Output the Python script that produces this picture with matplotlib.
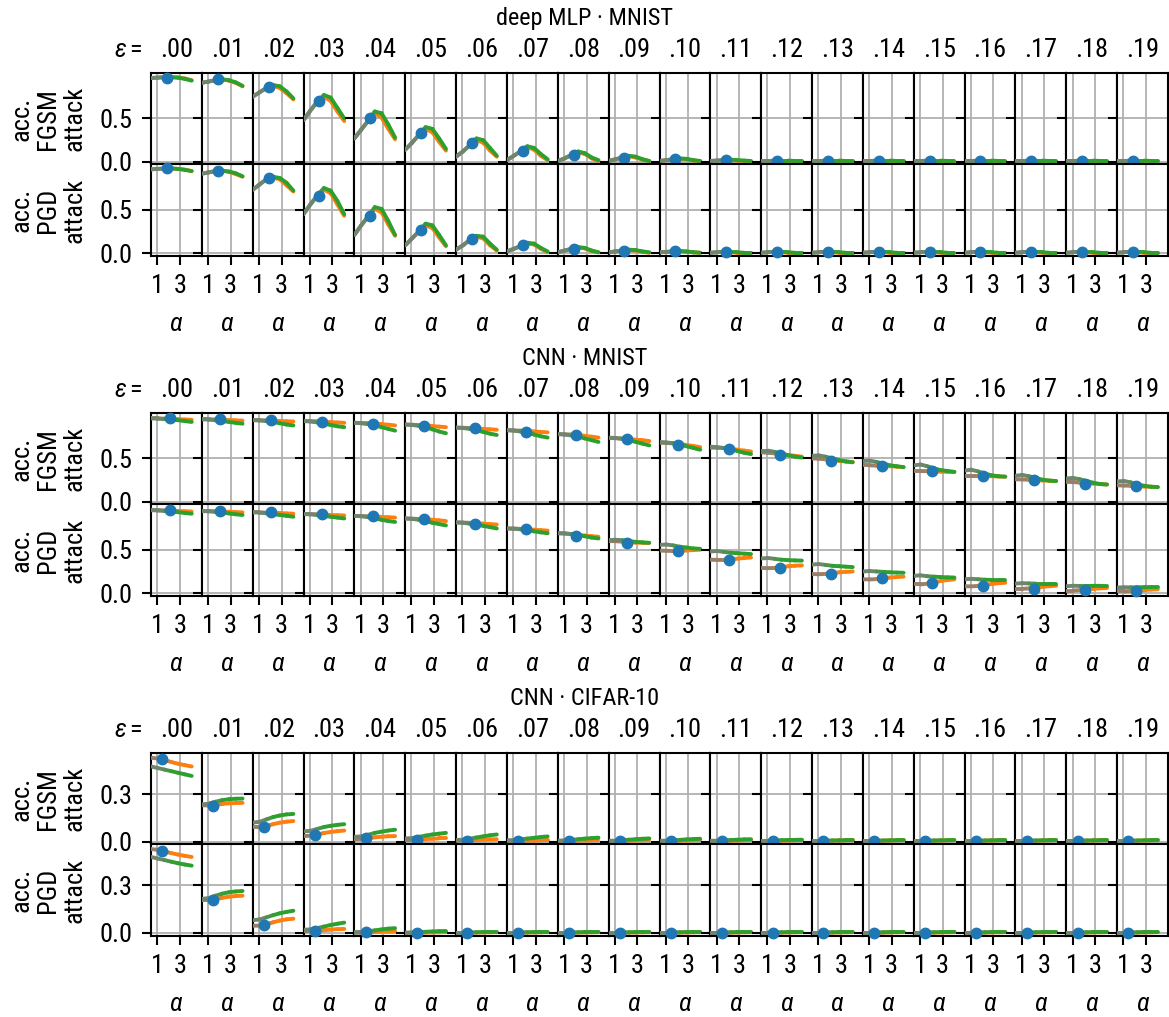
import numpy as np
import matplotlib
matplotlib.use('Agg')
import matplotlib.pyplot as plt
from matplotlib import font_manager
from matplotlib.collections import LineCollection
from matplotlib import colors as mcolors

_names = {f.name for f in font_manager.fontManager.ttflist}
FONT = 'Roboto Condensed' if 'Roboto Condensed' in _names else 'Roboto'
plt.rcParams['font.family'] = [FONT, 'DejaVu Sans']
plt.rcParams['mathtext.fontset'] = 'custom'
plt.rcParams['mathtext.rm'] = FONT
plt.rcParams['mathtext.it'] = FONT + ':italic'

# ---------------------------------------------------------------- data
ALPHAS = [0.45, 1.05, 1.65, 2.25, 2.85, 3.45, 4.05]
EPS_LABELS = ['.00', '.01', '.02', '.03', '.04', '.05', '.06', '.07', '.08', '.09',
              '.10', '.11', '.12', '.13', '.14', '.15', '.16', '.17', '.18', '.19']
GROUP_TITLES = ['deep MLP · MNIST', 'CNN · MNIST', 'CNN · CIFAR-10']
ROW_LABELS = ['acc.\nFGSM\nattack', 'acc.\nPGD\nattack']
DOT_ALPHA = [1.85, 2.1, 1.45]

# deep MLP / MNIST, FGSM
MLP_FGSM_ORANGE = [
    [0.965, 0.97, 0.975, 0.975, 0.97, 0.96, 0.94],
    [0.91, 0.925, 0.94, 0.95, 0.935, 0.91, 0.87],
    [0.75, 0.80, 0.85, 0.875, 0.85, 0.79, 0.72],
    [0.48, 0.59, 0.69, 0.75, 0.70, 0.58, 0.47],
    [0.27, 0.37, 0.47, 0.56, 0.51, 0.38, 0.26],
    [0.14, 0.22, 0.31, 0.38, 0.34, 0.23, 0.13],
    [0.06, 0.12, 0.19, 0.25, 0.22, 0.13, 0.06],
    [0.02, 0.07, 0.12, 0.17, 0.14, 0.07, 0.02],
    [0.01, 0.04, 0.08, 0.11, 0.09, 0.04, 0.01],
    [0.01, 0.03, 0.05, 0.065, 0.05, 0.025, 0.01],
    [0.01, 0.02, 0.03, 0.035, 0.03, 0.015, 0.01],
    [0.01, 0.015, 0.02, 0.02, 0.015, 0.01, 0.005],
    [0.01, 0.01, 0.01, 0.01, 0.01, 0.01, 0.005],
    [0.01, 0.01, 0.01, 0.01, 0.01, 0.01, 0.005],
    [0.01, 0.01, 0.01, 0.01, 0.01, 0.01, 0.005],
    [0.01, 0.01, 0.01, 0.01, 0.01, 0.01, 0.005],
    [0.01, 0.01, 0.01, 0.01, 0.01, 0.01, 0.005],
    [0.01, 0.01, 0.01, 0.01, 0.01, 0.01, 0.005],
    [0.01, 0.01, 0.01, 0.01, 0.01, 0.01, 0.005],
    [0.01, 0.01, 0.01, 0.01, 0.01, 0.01, 0.005],
]
MLP_FGSM_GREEN = [
    [0.965, 0.97, 0.975, 0.975, 0.97, 0.955, 0.935],
    [0.91, 0.925, 0.94, 0.95, 0.94, 0.915, 0.875],
    [0.75, 0.80, 0.85, 0.885, 0.87, 0.81, 0.73],
    [0.48, 0.59, 0.69, 0.77, 0.74, 0.62, 0.50],
    [0.27, 0.37, 0.47, 0.58, 0.56, 0.43, 0.28],
    [0.14, 0.22, 0.31, 0.40, 0.38, 0.27, 0.15],
    [0.06, 0.12, 0.19, 0.27, 0.25, 0.16, 0.07],
    [0.02, 0.07, 0.12, 0.18, 0.16, 0.09, 0.03],
    [0.01, 0.04, 0.08, 0.12, 0.10, 0.05, 0.02],
    [0.01, 0.03, 0.05, 0.07, 0.06, 0.03, 0.01],
    [0.01, 0.02, 0.03, 0.04, 0.035, 0.02, 0.01],
    [0.01, 0.015, 0.02, 0.025, 0.02, 0.015, 0.01],
    [0.01, 0.01, 0.015, 0.015, 0.015, 0.01, 0.01],
    [0.01, 0.01, 0.015, 0.015, 0.015, 0.01, 0.01],
    [0.01, 0.01, 0.015, 0.015, 0.015, 0.01, 0.01],
    [0.01, 0.01, 0.015, 0.015, 0.015, 0.01, 0.01],
    [0.01, 0.01, 0.015, 0.015, 0.015, 0.01, 0.01],
    [0.01, 0.01, 0.015, 0.015, 0.015, 0.01, 0.01],
    [0.01, 0.01, 0.015, 0.015, 0.015, 0.01, 0.01],
    [0.01, 0.01, 0.015, 0.015, 0.015, 0.01, 0.01],
]
MLP_FGSM_DOT = [0.97, 0.95, 0.86, 0.70, 0.50, 0.33, 0.22, 0.13, 0.08, 0.05,
                0.03, 0.02, 0.015, 0.01, 0.01, 0.01, 0.01, 0.01, 0.01, 0.01]

# deep MLP / MNIST, PGD
MLP_PGD_ORANGE = [
    [0.965, 0.97, 0.975, 0.975, 0.97, 0.96, 0.945],
    [0.915, 0.93, 0.945, 0.95, 0.935, 0.91, 0.88],
    [0.73, 0.79, 0.85, 0.87, 0.85, 0.78, 0.71],
    [0.45, 0.56, 0.66, 0.73, 0.69, 0.56, 0.43],
    [0.21, 0.32, 0.42, 0.51, 0.47, 0.33, 0.20],
    [0.09, 0.17, 0.25, 0.32, 0.29, 0.18, 0.08],
    [0.04, 0.09, 0.15, 0.19, 0.17, 0.09, 0.03],
    [0.02, 0.05, 0.08, 0.11, 0.10, 0.05, 0.01],
    [0.01, 0.03, 0.05, 0.065, 0.055, 0.025, 0.01],
    [0.01, 0.02, 0.03, 0.035, 0.03, 0.015, 0.005],
    [0.01, 0.015, 0.02, 0.02, 0.015, 0.01, 0.005],
    [0.005, 0.01, 0.01, 0.01, 0.005, 0.005, 0.005],
    [0.005, 0.01, 0.01, 0.01, 0.005, 0.005, 0.005],
    [0.005, 0.01, 0.01, 0.01, 0.005, 0.005, 0.005],
    [0.005, 0.01, 0.01, 0.01, 0.005, 0.005, 0.005],
    [0.005, 0.01, 0.01, 0.01, 0.005, 0.005, 0.005],
    [0.005, 0.01, 0.01, 0.01, 0.005, 0.005, 0.005],
    [0.005, 0.01, 0.01, 0.01, 0.005, 0.005, 0.005],
    [0.005, 0.01, 0.01, 0.01, 0.005, 0.005, 0.005],
    [0.005, 0.01, 0.01, 0.01, 0.005, 0.005, 0.005],
]
MLP_PGD_GREEN = [
    [0.965, 0.97, 0.975, 0.975, 0.97, 0.96, 0.945],
    [0.915, 0.93, 0.945, 0.95, 0.94, 0.92, 0.885],
    [0.73, 0.79, 0.85, 0.88, 0.865, 0.81, 0.72],
    [0.45, 0.56, 0.66, 0.75, 0.72, 0.60, 0.45],
    [0.21, 0.32, 0.42, 0.53, 0.51, 0.37, 0.21],
    [0.09, 0.17, 0.25, 0.34, 0.32, 0.21, 0.09],
    [0.04, 0.09, 0.15, 0.20, 0.19, 0.11, 0.04],
    [0.02, 0.05, 0.08, 0.12, 0.11, 0.06, 0.02],
    [0.01, 0.03, 0.05, 0.07, 0.06, 0.03, 0.01],
    [0.01, 0.02, 0.03, 0.04, 0.035, 0.02, 0.01],
    [0.01, 0.015, 0.02, 0.025, 0.02, 0.01, 0.005],
    [0.005, 0.01, 0.01, 0.01, 0.01, 0.005, 0.005],
    [0.005, 0.01, 0.01, 0.01, 0.01, 0.005, 0.005],
    [0.005, 0.01, 0.01, 0.01, 0.01, 0.005, 0.005],
    [0.005, 0.01, 0.01, 0.01, 0.01, 0.005, 0.005],
    [0.005, 0.01, 0.01, 0.01, 0.01, 0.005, 0.005],
    [0.005, 0.01, 0.01, 0.01, 0.01, 0.005, 0.005],
    [0.005, 0.01, 0.01, 0.01, 0.01, 0.005, 0.005],
    [0.005, 0.01, 0.01, 0.01, 0.01, 0.005, 0.005],
    [0.005, 0.01, 0.01, 0.01, 0.01, 0.005, 0.005],
]
MLP_PGD_DOT = [0.975, 0.95, 0.86, 0.66, 0.43, 0.27, 0.16, 0.09, 0.05, 0.03,
               0.02, 0.015, 0.01, 0.01, 0.01, 0.01, 0.01, 0.01, 0.01, 0.01]

# CNN / MNIST, FGSM
CNN_FGSM_ORANGE = [
    [0.96, 0.96, 0.958, 0.955, 0.952, 0.948, 0.945],
    [0.95, 0.95, 0.948, 0.945, 0.942, 0.938, 0.935],
    [0.94, 0.94, 0.938, 0.935, 0.93, 0.928, 0.925],
    [0.93, 0.93, 0.927, 0.922, 0.918, 0.914, 0.91],
    [0.91, 0.908, 0.905, 0.90, 0.895, 0.888, 0.88],
    [0.89, 0.888, 0.883, 0.877, 0.872, 0.866, 0.86],
    [0.855, 0.853, 0.85, 0.845, 0.84, 0.835, 0.83],
    [0.825, 0.823, 0.82, 0.815, 0.81, 0.805, 0.80],
    [0.78, 0.778, 0.775, 0.77, 0.76, 0.75, 0.74],
    [0.735, 0.733, 0.73, 0.725, 0.715, 0.71, 0.70],
    [0.68, 0.678, 0.673, 0.665, 0.655, 0.643, 0.63],
    [0.625, 0.623, 0.62, 0.612, 0.60, 0.59, 0.58],
    [0.57, 0.565, 0.558, 0.55, 0.54, 0.53, 0.52],
    [0.50, 0.497, 0.49, 0.48, 0.472, 0.465, 0.46],
    [0.42, 0.42, 0.418, 0.414, 0.41, 0.405, 0.40],
    [0.355, 0.355, 0.353, 0.35, 0.348, 0.346, 0.345],
    [0.30, 0.30, 0.30, 0.298, 0.295, 0.292, 0.29],
    [0.26, 0.258, 0.255, 0.25, 0.247, 0.243, 0.24],
    [0.23, 0.228, 0.222, 0.215, 0.21, 0.205, 0.20],
    [0.19, 0.188, 0.185, 0.18, 0.177, 0.173, 0.17],
]
CNN_FGSM_GREEN = [
    [0.96, 0.958, 0.953, 0.947, 0.94, 0.93, 0.92],
    [0.95, 0.947, 0.94, 0.93, 0.92, 0.91, 0.90],
    [0.94, 0.937, 0.93, 0.92, 0.905, 0.89, 0.88],
    [0.93, 0.925, 0.915, 0.90, 0.885, 0.87, 0.86],
    [0.91, 0.905, 0.895, 0.88, 0.86, 0.84, 0.82],
    [0.89, 0.885, 0.875, 0.86, 0.835, 0.81, 0.79],
    [0.855, 0.85, 0.84, 0.825, 0.805, 0.785, 0.77],
    [0.825, 0.82, 0.81, 0.795, 0.775, 0.755, 0.74],
    [0.78, 0.775, 0.765, 0.75, 0.73, 0.71, 0.69],
    [0.74, 0.735, 0.725, 0.71, 0.69, 0.67, 0.65],
    [0.69, 0.685, 0.675, 0.66, 0.64, 0.62, 0.60],
    [0.635, 0.63, 0.62, 0.605, 0.585, 0.565, 0.55],
    [0.59, 0.59, 0.575, 0.555, 0.535, 0.52, 0.51],
    [0.53, 0.535, 0.52, 0.50, 0.48, 0.465, 0.455],
    [0.47, 0.475, 0.46, 0.44, 0.42, 0.41, 0.40],
    [0.42, 0.43, 0.41, 0.385, 0.365, 0.355, 0.345],
    [0.36, 0.37, 0.35, 0.325, 0.305, 0.295, 0.29],
    [0.30, 0.31, 0.295, 0.275, 0.255, 0.245, 0.24],
    [0.27, 0.275, 0.26, 0.24, 0.22, 0.205, 0.20],
    [0.235, 0.24, 0.225, 0.20, 0.185, 0.175, 0.17],
]
CNN_FGSM_DOT = [0.96, 0.95, 0.94, 0.92, 0.90, 0.87, 0.845, 0.81, 0.77, 0.72,
                0.66, 0.61, 0.54, 0.47, 0.41, 0.35, 0.30, 0.25, 0.21, 0.18]

# CNN / MNIST, PGD
CNN_PGD_ORANGE = [
    [0.955, 0.955, 0.952, 0.95, 0.947, 0.943, 0.94],
    [0.945, 0.945, 0.942, 0.94, 0.937, 0.933, 0.93],
    [0.93, 0.93, 0.927, 0.925, 0.922, 0.918, 0.915],
    [0.91, 0.91, 0.908, 0.905, 0.90, 0.897, 0.895],
    [0.89, 0.888, 0.885, 0.882, 0.878, 0.874, 0.87],
    [0.86, 0.858, 0.854, 0.85, 0.845, 0.838, 0.83],
    [0.815, 0.813, 0.81, 0.805, 0.80, 0.795, 0.79],
    [0.745, 0.744, 0.74, 0.735, 0.73, 0.725, 0.72],
    [0.69, 0.687, 0.68, 0.67, 0.663, 0.656, 0.65],
    [0.60, 0.598, 0.593, 0.585, 0.582, 0.58, 0.58],
    [0.49, 0.488, 0.485, 0.487, 0.492, 0.496, 0.50],
    [0.385, 0.383, 0.382, 0.39, 0.398, 0.405, 0.41],
    [0.29, 0.288, 0.29, 0.30, 0.31, 0.316, 0.32],
    [0.22, 0.218, 0.222, 0.232, 0.24, 0.246, 0.25],
    [0.16, 0.158, 0.162, 0.172, 0.18, 0.186, 0.19],
    [0.10, 0.10, 0.11, 0.125, 0.14, 0.152, 0.16],
    [0.08, 0.078, 0.084, 0.095, 0.106, 0.115, 0.12],
    [0.05, 0.05, 0.055, 0.065, 0.074, 0.08, 0.085],
    [0.03, 0.03, 0.035, 0.043, 0.05, 0.056, 0.06],
    [0.02, 0.02, 0.024, 0.03, 0.036, 0.042, 0.045],
]
CNN_PGD_GREEN = [
    [0.955, 0.952, 0.947, 0.94, 0.932, 0.923, 0.915],
    [0.945, 0.942, 0.936, 0.928, 0.918, 0.908, 0.90],
    [0.93, 0.927, 0.92, 0.91, 0.90, 0.89, 0.88],
    [0.91, 0.907, 0.90, 0.89, 0.88, 0.87, 0.86],
    [0.89, 0.885, 0.875, 0.86, 0.845, 0.83, 0.82],
    [0.86, 0.855, 0.845, 0.83, 0.81, 0.795, 0.78],
    [0.815, 0.81, 0.80, 0.79, 0.775, 0.76, 0.745],
    [0.745, 0.742, 0.735, 0.725, 0.712, 0.70, 0.69],
    [0.69, 0.688, 0.68, 0.67, 0.655, 0.64, 0.63],
    [0.61, 0.615, 0.61, 0.60, 0.59, 0.585, 0.58],
    [0.555, 0.56, 0.55, 0.535, 0.525, 0.515, 0.51],
    [0.48, 0.485, 0.475, 0.465, 0.46, 0.455, 0.45],
    [0.40, 0.405, 0.395, 0.385, 0.38, 0.377, 0.375],
    [0.33, 0.335, 0.325, 0.315, 0.31, 0.305, 0.30],
    [0.25, 0.255, 0.25, 0.245, 0.24, 0.237, 0.235],
    [0.20, 0.205, 0.195, 0.19, 0.185, 0.182, 0.18],
    [0.16, 0.165, 0.16, 0.155, 0.152, 0.15, 0.15],
    [0.11, 0.115, 0.112, 0.11, 0.11, 0.11, 0.11],
    [0.08, 0.085, 0.083, 0.083, 0.084, 0.085, 0.085],
    [0.065, 0.068, 0.067, 0.068, 0.069, 0.07, 0.07],
]
CNN_PGD_DOT = [0.955, 0.95, 0.93, 0.91, 0.89, 0.85, 0.80, 0.74, 0.66, 0.58,
               0.48, 0.38, 0.29, 0.22, 0.17, 0.12, 0.08, 0.05, 0.04, 0.02]

# CNN / CIFAR-10, FGSM
CIFAR_FGSM_ORANGE = [
    [0.53, 0.525, 0.515, 0.503, 0.492, 0.483, 0.475],
    [0.23, 0.228, 0.232, 0.238, 0.242, 0.244, 0.245],
    [0.09, 0.09, 0.098, 0.11, 0.12, 0.126, 0.13],
    [0.035, 0.037, 0.045, 0.054, 0.061, 0.066, 0.07],
    [0.015, 0.017, 0.022, 0.027, 0.031, 0.034, 0.035],
    [0.01, 0.01, 0.013, 0.016, 0.018, 0.02, 0.02],
    [0.005, 0.006, 0.008, 0.01, 0.012, 0.014, 0.015],
    [0.003, 0.004, 0.005, 0.006, 0.007, 0.008, 0.008],
    [0.003, 0.004, 0.005, 0.006, 0.007, 0.008, 0.008],
    [0.003, 0.004, 0.005, 0.006, 0.007, 0.008, 0.008],
    [0.003, 0.004, 0.005, 0.006, 0.007, 0.008, 0.008],
    [0.003, 0.004, 0.005, 0.006, 0.007, 0.008, 0.008],
    [0.003, 0.004, 0.005, 0.006, 0.007, 0.008, 0.008],
    [0.003, 0.004, 0.005, 0.006, 0.007, 0.008, 0.008],
    [0.003, 0.004, 0.005, 0.006, 0.007, 0.008, 0.008],
    [0.003, 0.004, 0.005, 0.006, 0.007, 0.008, 0.008],
    [0.003, 0.004, 0.005, 0.006, 0.007, 0.008, 0.008],
    [0.003, 0.004, 0.005, 0.006, 0.007, 0.008, 0.008],
    [0.003, 0.004, 0.005, 0.006, 0.007, 0.008, 0.008],
    [0.003, 0.004, 0.005, 0.006, 0.007, 0.008, 0.008],
]
CIFAR_FGSM_GREEN = [
    [0.475, 0.465, 0.455, 0.445, 0.435, 0.425, 0.415],
    [0.235, 0.24, 0.252, 0.262, 0.268, 0.271, 0.272],
    [0.12, 0.125, 0.14, 0.155, 0.165, 0.172, 0.175],
    [0.065, 0.068, 0.08, 0.092, 0.10, 0.106, 0.11],
    [0.03, 0.033, 0.043, 0.055, 0.063, 0.07, 0.075],
    [0.02, 0.022, 0.03, 0.038, 0.045, 0.05, 0.055],
    [0.01, 0.012, 0.018, 0.026, 0.033, 0.04, 0.045],
    [0.008, 0.01, 0.014, 0.019, 0.024, 0.029, 0.033],
    [0.006, 0.008, 0.011, 0.015, 0.019, 0.022, 0.025],
    [0.005, 0.006, 0.009, 0.012, 0.015, 0.018, 0.02],
    [0.005, 0.006, 0.008, 0.011, 0.014, 0.016, 0.018],
    [0.005, 0.006, 0.008, 0.01, 0.012, 0.014, 0.015],
    [0.005, 0.005, 0.007, 0.009, 0.01, 0.011, 0.012],
    [0.005, 0.005, 0.006, 0.007, 0.008, 0.009, 0.01],
    [0.005, 0.005, 0.006, 0.007, 0.008, 0.009, 0.01],
    [0.005, 0.005, 0.006, 0.007, 0.008, 0.009, 0.01],
    [0.005, 0.005, 0.006, 0.007, 0.008, 0.009, 0.01],
    [0.005, 0.005, 0.006, 0.007, 0.008, 0.009, 0.01],
    [0.005, 0.005, 0.006, 0.007, 0.008, 0.009, 0.01],
    [0.005, 0.005, 0.006, 0.007, 0.008, 0.009, 0.01],
]
CIFAR_FGSM_DOT = [0.52, 0.225, 0.095, 0.04, 0.02, 0.01, 0.005, 0.004, 0.003, 0.003,
                  0.003, 0.003, 0.003, 0.003, 0.003, 0.003, 0.003, 0.003, 0.003, 0.003]

# CNN / CIFAR-10, PGD
CIFAR_PGD_ORANGE = [
    [0.53, 0.525, 0.515, 0.504, 0.495, 0.487, 0.48],
    [0.205, 0.205, 0.213, 0.222, 0.229, 0.233, 0.235],
    [0.045, 0.046, 0.055, 0.067, 0.078, 0.086, 0.09],
    [0.01, 0.01, 0.013, 0.017, 0.021, 0.024, 0.025],
    [0.0, 0.001, 0.003, 0.005, 0.007, 0.009, 0.01],
    [0.0, 0.0, 0.001, 0.002, 0.003, 0.004, 0.005],
    [0.0, 0.0, 0.001, 0.002, 0.003, 0.004, 0.005],
    [0.0, 0.0, 0.001, 0.002, 0.003, 0.004, 0.005],
    [0.0, 0.0, 0.001, 0.002, 0.003, 0.004, 0.005],
    [0.0, 0.0, 0.001, 0.002, 0.003, 0.004, 0.005],
    [0.0, 0.0, 0.001, 0.002, 0.003, 0.004, 0.005],
    [0.0, 0.0, 0.001, 0.002, 0.003, 0.004, 0.005],
    [0.0, 0.0, 0.001, 0.002, 0.003, 0.004, 0.005],
    [0.0, 0.0, 0.001, 0.002, 0.003, 0.004, 0.005],
    [0.0, 0.0, 0.001, 0.002, 0.003, 0.004, 0.005],
    [0.0, 0.0, 0.001, 0.002, 0.003, 0.004, 0.005],
    [0.0, 0.0, 0.001, 0.002, 0.003, 0.004, 0.005],
    [0.0, 0.0, 0.001, 0.002, 0.003, 0.004, 0.005],
    [0.0, 0.0, 0.001, 0.002, 0.003, 0.004, 0.005],
    [0.0, 0.0, 0.001, 0.002, 0.003, 0.004, 0.005],
]
CIFAR_PGD_GREEN = [
    [0.48, 0.47, 0.46, 0.45, 0.44, 0.432, 0.425],
    [0.215, 0.22, 0.235, 0.248, 0.257, 0.262, 0.265],
    [0.08, 0.085, 0.098, 0.112, 0.124, 0.133, 0.14],
    [0.02, 0.022, 0.03, 0.04, 0.05, 0.058, 0.065],
    [0.005, 0.006, 0.01, 0.016, 0.022, 0.027, 0.03],
    [0.002, 0.003, 0.005, 0.007, 0.009, 0.011, 0.012],
    [0.002, 0.002, 0.003, 0.004, 0.005, 0.005, 0.006],
    [0.002, 0.002, 0.003, 0.004, 0.005, 0.005, 0.006],
    [0.002, 0.002, 0.003, 0.004, 0.005, 0.005, 0.006],
    [0.002, 0.002, 0.003, 0.004, 0.005, 0.005, 0.006],
    [0.002, 0.002, 0.003, 0.004, 0.005, 0.005, 0.006],
    [0.002, 0.002, 0.003, 0.004, 0.005, 0.005, 0.006],
    [0.002, 0.002, 0.003, 0.004, 0.005, 0.005, 0.006],
    [0.002, 0.002, 0.003, 0.004, 0.005, 0.005, 0.006],
    [0.002, 0.002, 0.003, 0.004, 0.005, 0.005, 0.006],
    [0.002, 0.002, 0.003, 0.004, 0.005, 0.005, 0.006],
    [0.002, 0.002, 0.003, 0.004, 0.005, 0.005, 0.006],
    [0.002, 0.002, 0.003, 0.004, 0.005, 0.005, 0.006],
    [0.002, 0.002, 0.003, 0.004, 0.005, 0.005, 0.006],
    [0.002, 0.002, 0.003, 0.004, 0.005, 0.005, 0.006],
]
CIFAR_PGD_DOT = [0.52, 0.205, 0.05, 0.01, 0.005, 0.0, 0.0, 0.0, 0.0, 0.0,
                 0.0, 0.0, 0.0, 0.0, 0.0, 0.0, 0.0, 0.0, 0.0, 0.0]

GROUPS = [
    dict(title=GROUP_TITLES[0], ylim=(-0.028, 1.023), yticks=[0.0, 0.5],
         rows=[(MLP_FGSM_ORANGE, MLP_FGSM_GREEN, MLP_FGSM_DOT),
               (MLP_PGD_ORANGE, MLP_PGD_GREEN, MLP_PGD_DOT)], dot_alpha=DOT_ALPHA[0]),
    dict(title=GROUP_TITLES[1], ylim=(-0.028, 1.023), yticks=[0.0, 0.5],
         rows=[(CNN_FGSM_ORANGE, CNN_FGSM_GREEN, CNN_FGSM_DOT),
               (CNN_PGD_ORANGE, CNN_PGD_GREEN, CNN_PGD_DOT)], dot_alpha=DOT_ALPHA[1]),
    dict(title=GROUP_TITLES[2], ylim=(-0.017, 0.56), yticks=[0.0, 0.3],
         rows=[(CIFAR_FGSM_ORANGE, CIFAR_FGSM_GREEN, CIFAR_FGSM_DOT),
               (CIFAR_PGD_ORANGE, CIFAR_PGD_GREEN, CIFAR_PGD_DOT)], dot_alpha=DOT_ALPHA[2]),
]

# ---------------------------------------------------------------- style
ORANGE, GREEN, BLUE, GRAY = '#ff7f0e', '#2ca02c', '#1f77b4', '#7f7f7f'
FS = 19
W, H = 1169, 1017
LEFT, COL_W, ROW_H = 151, 50.85, 91.3
GROUP_TOPS = [73, 413, 753]


def px_rect(left, top, width, height):
    return [left / W, 1 - (top + height) / H, width / W, height / H]


def gradient_line(ax, ys, color, z):
    # each segment fades from grey towards the series colour
    x = np.asarray(ALPHAS)
    pts = np.column_stack([x, ys])
    segs = np.stack([pts[:-1], pts[1:]], axis=1)
    mids = (x[:-1] + x[1:]) / 2
    g = np.array(mcolors.to_rgb(GRAY))
    c = np.array(mcolors.to_rgb(color))
    start = 0.82 * g + 0.18 * c
    w = np.clip((mids - 1.3) / 1.3, 0, 1)[:, None]
    cols = start * (1 - w) + c * w
    lc = LineCollection(segs, colors=cols, linewidths=2.8, capstyle='round',
                        joinstyle='round', zorder=z)
    ax.add_collection(lc)


fig = plt.figure(figsize=(W / 100, H / 100), dpi=100)

for gi, grp in enumerate(GROUPS):
    top = GROUP_TOPS[gi]
    fig.text(0.5, 1 - (top - 48) / H, grp['title'], ha='center', va='baseline', fontsize=17.5)
    fig.text(143 / W, 1 - (top - 16) / H, r'$\varepsilon =$', ha='right', va='baseline', fontsize=FS)
    for ri, (orange, green, dots) in enumerate(grp['rows']):
        row_top = top + ri * ROW_H
        fig.text(48 / W, 1 - (row_top + ROW_H / 2) / H, ROW_LABELS[ri], rotation=90,
                 ha='center', va='center', multialignment='center', fontsize=19, linespacing=1.15)
        for ci in range(len(EPS_LABELS)):
            ax = fig.add_axes(px_rect(LEFT + ci * COL_W, row_top, COL_W, ROW_H))
            gradient_line(ax, orange[ci], ORANGE, 3)
            gradient_line(ax, green[ci], GREEN, 4)
            ax.plot([grp['dot_alpha']], [dots[ci]], 'o', color=BLUE, ms=7.5, zorder=6, clip_on=False)
            ax.set_xlim(0.45, 4.95)
            ax.set_ylim(*grp['ylim'])
            ax.set_xticks([1, 3])
            ax.set_yticks(grp['yticks'])
            ax.set_yticklabels([f'{t:.1f}' for t in grp['yticks']])
            ax.grid(True, color='#b0b0b0', lw=1.3)
            ax.set_axisbelow(True)
            for sp in ax.spines.values():
                sp.set_linewidth(1.5)
                sp.set_color('black')
            ax.tick_params(direction='out', length=6.5, width=1.5, labelsize=FS, pad=7)
            if ci > 0:
                ax.tick_params(labelleft=False)
            if ri == 0:
                ax.tick_params(axis='x', length=0, labelbottom=False)
                fig.text((LEFT + (ci + 0.5) * COL_W) / W, 1 - (top - 16) / H, EPS_LABELS[ci],
                         ha='center', va='baseline', fontsize=FS)
            else:
                bottom = row_top + ROW_H
                fig.text((LEFT + (ci + 0.5) * COL_W) / W, 1 - (bottom + 75) / H, r'$\alpha$',
                         ha='center', va='baseline', fontsize=FS)

fig.savefig('out.png', dpi=100)
